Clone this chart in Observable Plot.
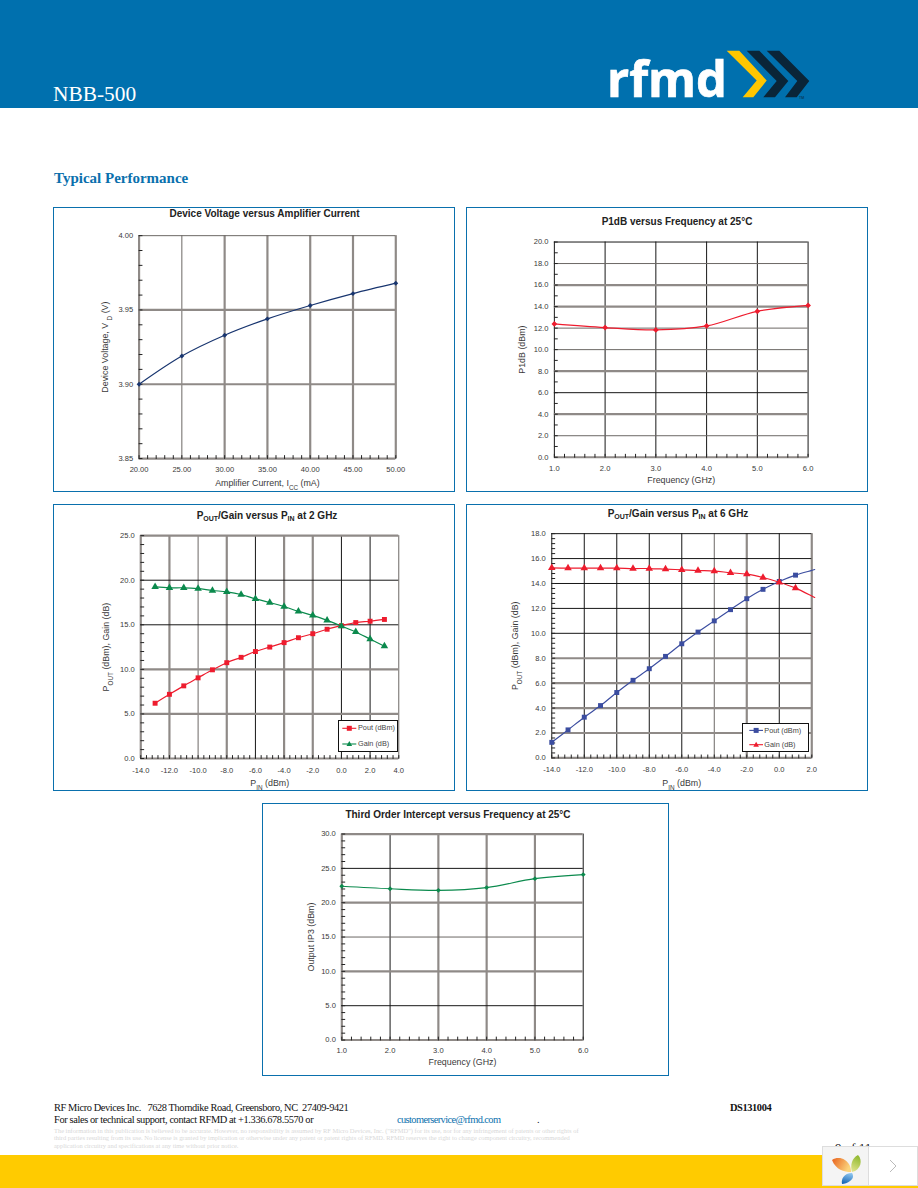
<!DOCTYPE html>
<html>
<head>
<meta charset="utf-8">
<script src="https://cdn.jsdelivr.net/npm/d3@7"></script>
<script src="https://cdn.jsdelivr.net/npm/@observablehq/plot@0.6"></script>
<style>
  html, body { margin: 0; padding: 0; background: #fff; }
  #page { position: relative; width: 918px; height: 1188px; overflow: hidden; background: #fff; font-family: "Liberation Serif", serif; }
  .abs { position: absolute; white-space: nowrap; }
  .panel { position: absolute; box-sizing: border-box; border: 1px solid #0a70ad; background: #fff; }
  .panel svg { position: absolute; left: -1px; top: -1px; overflow: visible; }
  .ctitle { position: absolute; white-space: nowrap; transform: translateX(-50%); font: bold 10px "Liberation Sans", sans-serif; color: #222; line-height: 12px; }
  .ctitle sub { font-size: 70%; vertical-align: baseline; position: relative; top: 2px; }
  .legend { position: absolute; box-sizing: border-box; border: 1px solid #111; background: #fff; font: 7.3px "Liberation Sans", sans-serif; color: #444; }
  .legend svg { position: absolute; left: 0; top: 0; overflow: visible; }
  .legend span { position: absolute; white-space: nowrap; line-height: 10px; }
</style>
</head>
<body>
<div id="page"></div>
<script>
// ---------- data ----------
const currentMa = [20, 25, 30, 35, 40, 45, 50];
const deviceVoltage = [3.9, 3.919, 3.933, 3.944, 3.953, 3.961, 3.968];

const frequencyGhz = [1, 2, 3, 4, 5, 6];
const p1dbDbm = [12.39, 12.05, 11.83, 12.2, 13.56, 14.11];
const ip3Dbm = [22.4, 22.03, 21.8, 22.2, 23.5, 24.1];

const pin2Ghz = [-13, -12, -11, -10, -9, -8, -7, -6, -5, -4, -3, -2, -1, 0, 1, 2, 3];
const pout2Ghz = [6.2, 7.2, 8.15, 9.05, 9.95, 10.75, 11.35, 12.0, 12.5, 13.0, 13.55, 14.0, 14.5, 14.9, 15.25, 15.4, 15.6];
const gain2Ghz = [19.25, 19.15, 19.15, 19.05, 18.85, 18.7, 18.4, 17.9, 17.5, 17.05, 16.5, 16.05, 15.5, 14.85, 14.2, 13.4, 12.6];

const pin6Ghz = [-14, -13, -12, -11, -10, -9, -8, -7, -6, -5, -4, -3, -2, -1, 0, 1, 2, 2.18];
const pout6Ghz = [1.25, 2.25, 3.27, 4.2, 5.25, 6.23, 7.16, 8.15, 9.16, 10.1, 11.0, 11.9, 12.78, 13.53, 14.16, 14.67, 15.05, 15.12];
const gain6Ghz = [15.25, 15.23, 15.23, 15.23, 15.23, 15.2, 15.2, 15.15, 15.1, 15.04, 15.0, 14.86, 14.75, 14.48, 14.1, 13.63, 13.0, 12.88];
const pin6MarkerLimit = 1;

const ticksCurrent = [20, 25, 30, 35, 40, 45, 50];
const ticksVoltage = [3.85, 3.9, 3.95, 4.0];
const ticksFreq = [1, 2, 3, 4, 5, 6];
const ticksP1db = [0, 2, 4, 6, 8, 10, 12, 14, 16, 18, 20];
const ticksPin2 = [-14, -12, -10, -8, -6, -4, -2, 0, 2, 4];
const ticksPower2 = [0, 5, 10, 15, 20, 25];
const ticksPin6 = [-14, -12, -10, -8, -6, -4, -2, 0, 2];
const ticksPower6 = [0, 2, 4, 6, 8, 10, 12, 14, 16, 18];
const ticksIp3 = [0, 5, 10, 15, 20, 25, 30];

// ---------- helpers ----------
const COLORS = { heavy: "#8f8a87", thin: "#6b6764", black: "#151515" };
const WIDTHS = { heavy: 2.2, thin: 1, black: 1 };
const page = document.getElementById("page");

const tickShape = { draw(ctx, l) { ctx.moveTo(0, 0); ctx.lineTo(0, -l); } };
const minorTicks = (domain, step) => {
  const n = Math.round((domain[1] - domain[0]) / step);
  return d3.range(n + 1).map(i => +(domain[0] + i * step).toFixed(4));
};

function subscripts(svg) {
  svg.querySelectorAll("text, tspan").forEach(t => {
    if (t.children.length === 0 && t.textContent.includes("_{")) {
      t.innerHTML = t.textContent.replace(/_\{([^}]*)\}/g,
        '<tspan baseline-shift="sub" font-size="72%">$1</tspan>');
    }
  });
}

function grid(kind, spec) {
  const marks = [];
  for (const style of ["heavy", "thin", "black"]) {
    const vals = spec[style] || [];
    const opts = { stroke: COLORS[style], strokeWidth: WIDTHS[style] };
    marks.push(kind === "x" ? Plot.ruleX(vals, opts) : Plot.ruleY(vals, opts));
  }
  return marks;
}

function panel(c) {
  const [fx0, fy0, fx1, fy1] = c.frame;
  const [px0, py0, px1, py1] = c.plot;
  const div = document.createElement("div");
  div.className = "panel";
  Object.assign(div.style, { left: fx0 + "px", top: fy0 + "px", width: (fx1 - fx0) + "px", height: (fy1 - fy0) + "px" });
  const W = fx1 - fx0, H = fy1 - fy0;
  const svg = Plot.plot({
    width: W, height: H,
    marginLeft: px0 - fx0, marginRight: fx1 - px1, marginTop: py0 - fy0, marginBottom: fy1 - py1,
    style: { fontFamily: "'Liberation Sans', sans-serif", background: "transparent", overflow: "visible" },
    x: { domain: c.xDomain, axis: null, nice: false },
    y: { domain: c.yDomain, axis: null, nice: false },
    marks: [
      ...grid("x", c.gridX),
      ...grid("y", c.gridY),
      Plot.vectorX(minorTicks(c.xDomain, c.minorX), { x: d => d, frameAnchor: "bottom", length: 3, rotate: 0, anchor: "start", shape: tickShape, stroke: "#222", strokeWidth: 1 }),
      Plot.vectorY(minorTicks(c.yDomain, c.minorY), { y: d => d, frameAnchor: "left", length: 3, rotate: 90, anchor: "start", shape: tickShape, stroke: "#222", strokeWidth: 1 }),
      Plot.axisX({ ticks: c.xTicks, tickSize: 0, tickPadding: c.xPad, fontSize: 7.6, fill: "#3a3a3a", tickFormat: d => d.toFixed(c.xFixed), label: c.xLabel, labelAnchor: "center", labelArrow: "none", labelOffset: c.xLabelOffset }),
      Plot.axisY({ ticks: c.yTicks, tickSize: 0, tickPadding: 6, fontSize: 7.6, fill: "#3a3a3a", tickFormat: d => d.toFixed(c.yFixed), label: c.yLabel, labelAnchor: "center", labelArrow: "none", labelOffset: c.yLabelOffset }),
      ...c.series.flatMap(s => [
        Plot.line(s.xs.map((x, i) => ({ x, y: s.ys[i] })), { x: "x", y: "y", stroke: s.color, strokeWidth: s.width ?? 1.2, curve: "catmull-rom" }),
        Plot.dot(s.xs.map((x, i) => ({ x, y: s.ys[i] })).filter(d => s.markerMax === undefined || d.x <= s.markerMax),
          { x: "x", y: "y", symbol: s.symbol, r: s.r, fill: s.color, stroke: "none" })
      ])
    ]
  });
  svg.querySelectorAll('[aria-label="x-axis label"], [aria-label="y-axis label"]').forEach(g => g.setAttribute("font-size", "8.9"));
  subscripts(svg);
  div.appendChild(svg);
  page.appendChild(div);

  const t = document.createElement("div");
  t.className = "ctitle";
  t.innerHTML = c.title;
  t.style.left = c.titleAt[0] + "px";
  t.style.top = c.titleAt[1] + "px";
  page.appendChild(t);

  if (c.legend) {
    const L = c.legend;
    const [lx0, ly0, lx1, ly1] = L.box;
    const d = document.createElement("div");
    d.className = "legend";
    Object.assign(d.style, { left: lx0 + "px", top: ly0 + "px", width: (lx1 - lx0) + "px", height: (ly1 - ly0) + "px" });
    const rows = L.rows.map(r => {
      const y = r.y - ly0 - 1, x0 = L.sample[0] - lx0 - 1, x1 = L.sample[1] - lx0 - 1, m = (x0 + x1) / 2;
      const mk = r.symbol === "square"
        ? `<rect x="${m - 2.5}" y="${y - 2.5}" width="5" height="5" fill="${r.color}"/>`
        : `<path d="M${m} ${y - 3}L${m + 2.8} ${y + 2}L${m - 2.8} ${y + 2}Z" fill="${r.color}"/>`;
      return `<line x1="${x0}" x2="${x1}" y1="${y}" y2="${y}" stroke="${r.color}" stroke-width="1.1"/>${mk}`;
    }).join("");
    d.innerHTML = `<svg width="${lx1 - lx0}" height="${ly1 - ly0}">${rows}</svg>` +
      L.rows.map(r => `<span style="left:${L.textX - lx0 - 1}px;top:${r.y - ly0 - 6}px">${r.label}</span>`).join("");
    page.appendChild(d);
  }
}

function html(text, css) {
  const d = document.createElement("div");
  d.className = "abs";
  d.innerHTML = text;
  d.style.cssText += css;
  page.appendChild(d);
  return d;
}

// ---------- page furniture ----------
html("", "left:0;top:0;width:918px;height:108px;background:#0070ae;");
html("NBB-500", "left:53px;top:81px;font-size:21.4px;line-height:26px;color:#fff;");
html(`<svg width="215" height="60" style="display:block;overflow:visible">
  <text x="7" y="52" font-family="'Open Sans',sans-serif" font-weight="700" font-size="51" fill="#fff" stroke="#fff" stroke-width="0.7" textLength="120" lengthAdjust="spacingAndGlyphs">rfmd</text>
  <polygon fill="#ffc600" points="126.7,5.7 139.3,5.7 166.7,35.5 153.3,52.3 142.7,52.3 156.7,35.5"/>
  <polygon fill="#0a2538" points="146.7,5.7 159.3,5.7 188.3,36 175,52.3 163.3,52.3 176.7,36"/>
  <polygon fill="#0a2538" points="166.7,5.7 179.3,5.7 209.3,36 196.7,52.3 185,52.3 197.3,36"/>
  <text x="199" y="54" font-family="'Liberation Sans',sans-serif" font-size="3.5" fill="#0a2538">TM</text>
</svg>`, "left:600px;top:45px;");
html("Typical Performance", "left:54px;top:169px;font-size:15px;line-height:18px;font-weight:700;color:#0a70ad;");

// ---------- charts ----------
panel({
  frame: [53, 207, 455, 492], plot: [139, 235.3, 397, 459.3],
  title: "Device Voltage versus Amplifier Current", titleAt: [264.5, 208],
  xDomain: [20, 50], yDomain: [3.85, 4.0], xTicks: ticksCurrent, yTicks: ticksVoltage, xFixed: 2, yFixed: 2,
  minorX: 1, minorY: 0.01, xPad: 8,
  gridX: { heavy: [20, 30, 35, 40, 45, 50], thin: [25] }, gridY: { heavy: [3.85, 3.9, 3.95], thin: [4.0] },
  xLabel: "Amplifier Current, I_{CC} (mA)", yLabel: "Device Voltage, V _{D} (V)", xLabelOffset: 28, yLabelOffset: 38,
  series: [{ xs: currentMa, ys: deviceVoltage, color: "#18356f", symbol: "diamond2", r: 2.2 }]
});

panel({
  frame: [466, 207, 868, 492], plot: [554.3, 241.7, 809.3, 458],
  title: "P1dB versus Frequency at 25°C", titleAt: [677, 216],
  xDomain: [1, 6], yDomain: [0, 20], xTicks: ticksFreq, yTicks: ticksP1db, xFixed: 1, yFixed: 1,
  minorX: 0.2, minorY: 1, xPad: 8,
  gridX: { black: [1, 2, 3, 4, 5, 6] }, gridY: { heavy: [0, 4, 8, 14, 16], thin: [2, 10, 12, 18], black: [6, 20] },
  xLabel: "Frequency (GHz)", yLabel: "P1dB (dBm)", xLabelOffset: 26, yLabelOffset: 36,
  series: [{ xs: frequencyGhz, ys: p1dbDbm, color: "#ee1c2e", symbol: "diamond2", r: 2.6 }]
});

panel({
  frame: [53, 504, 455, 791], plot: [140.7, 535.3, 400, 759.3],
  title: "P<sub>OUT</sub>/Gain versus P<sub>IN</sub> at 2 GHz", titleAt: [267, 510],
  xDomain: [-14, 4], yDomain: [0, 25], xTicks: ticksPin2, yTicks: ticksPower2, xFixed: 1, yFixed: 1,
  minorX: 0.4, minorY: 1, xPad: 9,
  gridX: { heavy: [-14, -12, -8, -4, -2], thin: [-10, 4], black: [-6, 0, 2] }, gridY: { heavy: [0, 5, 10, 25], black: [15, 20] },
  xLabel: "P_{IN} (dBm)", yLabel: "P_{OUT} (dBm), Gain (dB)", xLabelOffset: 28, yLabelOffset: 38,
  series: [
    { xs: pin2Ghz, ys: pout2Ghz, color: "#ee1c2e", symbol: "square", r: 2.8 },
    { xs: pin2Ghz, ys: gain2Ghz, color: "#0b8a4d", symbol: "triangle", r: 2.8 }
  ],
  legend: { box: [337.7, 719.7, 398.3, 752.3], sample: [342, 356], textX: 358, 
    rows: [{ y: 728, label: "Pout (dBm)", color: "#ee1c2e", symbol: "square" }, { y: 743.7, label: "Gain (dB)", color: "#0b8a4d", symbol: "triangle" }] }
});

panel({
  frame: [466, 504, 868, 791], plot: [551.7, 533.3, 813, 758.7],
  title: "P<sub>OUT</sub>/Gain versus P<sub>IN</sub> at 6 GHz", titleAt: [678, 508],
  xDomain: [-14, 2], yDomain: [0, 18], xTicks: ticksPin6, yTicks: ticksPower6, xFixed: 1, yFixed: 1,
  minorX: 0.4, minorY: 0.4, xPad: 9,
  gridX: { heavy: [-2, 2], thin: [-4], black: [-14, -12, -10, -8, -6, 0] }, gridY: { heavy: [0, 2, 4, 6, 8], black: [10, 12, 14, 16, 18] },
  xLabel: "P_{IN} (dBm)", yLabel: "P_{OUT} (dBm), Gain (dB)", xLabelOffset: 28, yLabelOffset: 40,
  series: [
    { xs: pin6Ghz, ys: pout6Ghz, color: "#3b4da0", symbol: "square", r: 2.8, markerMax: pin6MarkerLimit },
    { xs: pin6Ghz, ys: gain6Ghz, color: "#ee1c2e", symbol: "triangle", r: 2.8, markerMax: pin6MarkerLimit }
  ],
  legend: { box: [741.7, 723.3, 809, 752.3], sample: [749, 762.7], textX: 764.3,
    rows: [{ y: 730.7, label: "Pout (dBm)", color: "#3b4da0", symbol: "square" }, { y: 745, label: "Gain (dB)", color: "#ee1c2e", symbol: "triangle" }] }
});

panel({
  frame: [262, 803, 668.5, 1076], plot: [341.7, 833.7, 584.3, 1040.7],
  title: "Third Order Intercept versus Frequency at 25°C", titleAt: [458, 809],
  xDomain: [1, 6], yDomain: [0, 30], xTicks: ticksFreq, yTicks: ticksIp3, xFixed: 1, yFixed: 1,
  minorX: 0.2, minorY: 1, xPad: 8,
  gridX: { heavy: [1, 3, 4, 5], black: [2, 6] }, gridY: { heavy: [0, 10, 20, 30], thin: [15], black: [5, 25] },
  xLabel: "Frequency (GHz)", yLabel: "Output IP3 (dBm)", xLabelOffset: 25, yLabelOffset: 34,
  series: [{ xs: frequencyGhz, ys: ip3Dbm, color: "#0b8a4d", symbol: "diamond2", r: 2.2 }]
});

// ---------- footer ----------
const foot = "font-size:10.4px;line-height:12px;";
html("RF Micro Devices Inc.&nbsp;&nbsp; 7628 Thorndike Road, Greensboro, NC&nbsp; 27409-9421", `left:54px;top:1102px;${foot}color:#111;letter-spacing:-0.4px;`);
html("For sales or technical support, contact RFMD at +1.336.678.5570 or", `left:54px;top:1114px;${foot}color:#111;letter-spacing:-0.38px;`);
html("customerservice@rfmd.com", `left:397px;top:1114px;${foot}color:#0a70ad;letter-spacing:-0.6px;`);
html(".", `left:537px;top:1114px;${foot}color:#111;`);
html("DS131004", `left:730px;top:1102px;${foot}font-weight:700;color:#111;letter-spacing:-0.4px;`);
const fine = "font-size:6.45px;line-height:8px;color:#d8d8d8;";
html('The information in this publication is believed to be accurate. However, no responsibility is assumed by RF Micro Devices, Inc. ("RFMD") for its use, nor for any infringement of patents or other rights of', `left:54px;top:1127px;${fine}`);
html("third parties resulting from its use. No license is granted by implication or otherwise under any patent or patent rights of RFMD. RFMD reserves the right to change component circuitry, recommended", `left:54px;top:1134px;${fine}`);
html("application circuitry and specifications at any time without prior notice.", `left:54px;top:1142px;${fine}`);
html("9 of 11", "left:835px;top:1140px;font-size:13px;line-height:15px;color:#111;");
html("", "left:0;top:1155px;width:918px;height:33px;background:#ffcb00;");
html(`<svg width="96" height="40" style="display:block">
  <defs>
    <linearGradient id="pOr" x1="0" x2="1" y1="0" y2="0.4"><stop offset="0" stop-color="#e8601c"/><stop offset="1" stop-color="#fbd47c"/></linearGradient>
    <linearGradient id="pLi" x1="0.6" x2="0.3" y1="0" y2="1"><stop offset="0" stop-color="#8fb82e"/><stop offset="1" stop-color="#dfe38a"/></linearGradient>
    <linearGradient id="pBl" x1="0.6" x2="0.3" y1="0" y2="1"><stop offset="0" stop-color="#8cc4ee"/><stop offset="1" stop-color="#1565b5"/></linearGradient>
  </defs>
  <rect x="0.5" y="0.5" width="95" height="39" fill="#fff" stroke="#ddd"/>
  <rect x="1" y="1" width="45" height="38" fill="#f4f4f4"/>
  <line x1="46.5" x2="46.5" y1="0" y2="40" stroke="#ddd"/>
  <path d="M10 14C16 10 24 12 28 20C29 23 29 25 29 26C22 26 14 24 10 14Z" fill="url(#pOr)"/>
  <path d="M36 9C41 14 39 24 30 26C28 19 30 12 36 9Z" fill="url(#pLi)"/>
  <path d="M30 27C32 30 31 33 28 35C26 37 22 38 20 38C19 33 22 27 30 27Z" fill="url(#pBl)"/>
  <polyline points="68,14 74,20 68,26" fill="none" stroke="#bbb" stroke-width="1"/>
</svg>`, "left:822px;top:1146px;");
</script>
</body>
</html>
